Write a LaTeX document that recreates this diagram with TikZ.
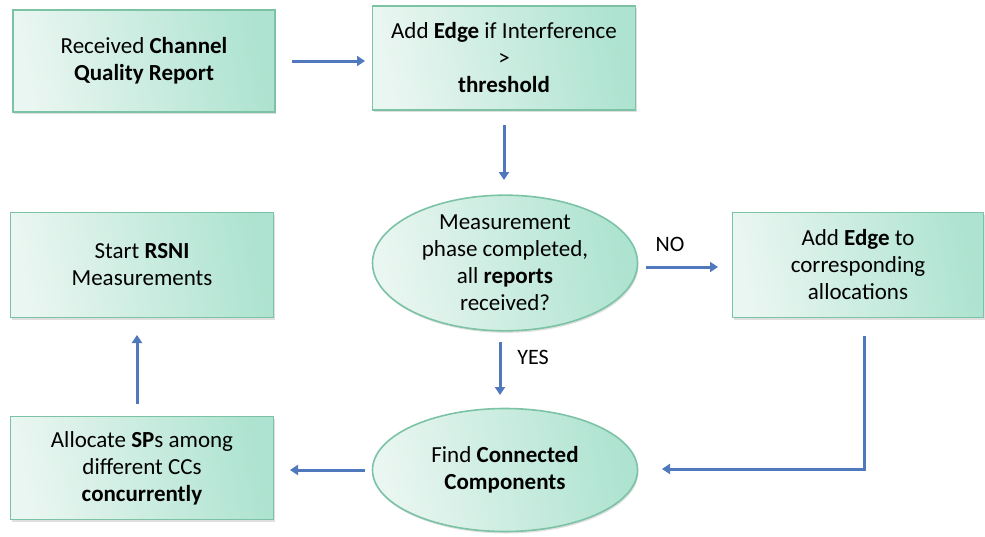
\documentclass[tikz,border=0pt]{standalone}
\usepackage{fontspec}
\setmainfont{Carlito}
\usetikzlibrary{arrows.meta,shapes.geometric,shadows}

\definecolor{boxlight}{HTML}{EAF6F1}
\definecolor{boxdark}{HTML}{ADE3D0}
\definecolor{boxline}{HTML}{7CC3A6}
\definecolor{arrblue}{HTML}{5079BD}

\tikzset{
  stepbox/.style={draw=boxline, line width=1.6pt, left color=boxlight, right color=boxdark,
    shading angle=100, align=center, inner sep=0pt,
    drop shadow={opacity=0.25, shadow xshift=1pt, shadow yshift=-2pt}},
  decision/.style={stepbox, ellipse},
  arr/.style={draw=arrblue, line width=3pt, -{Triangle[width=10pt,length=8pt]}},
  lbl/.style={font=\fontsize{22}{26}\selectfont}
}

\begin{document}
\begin{tikzpicture}[x=1pt,y=-1pt, font=\fontsize{23}{27}\selectfont]
\useasboundingbox (0,0) rectangle (985,536);

%%Boxes
\node[stepbox, minimum width=262pt, minimum height=102pt] (rcv) at (144,61)
  {Received \textbf{Channel}\\ \textbf{Quality Report}};
\node[stepbox, minimum width=263pt, minimum height=104pt] (addedge) at (504,58)
  {Add \textbf{Edge} if Interference\\ >\\ \textbf{threshold}};
\node[decision, minimum width=265pt, minimum height=126pt] (phase) at (505,263)
  {Measurement\\ phase completed,\\ all \textbf{reports}\\ received?};
\node[stepbox, minimum width=251pt, minimum height=105pt] (alloc) at (858,265)
  {Add \textbf{Edge} to\\ corresponding\\ allocations};
\node[decision, minimum width=265pt, minimum height=123pt] (cc) at (505,470)
  {Find \textbf{Connected}\\ \textbf{Components}};
\node[stepbox, minimum width=263pt, minimum height=103pt] (sps) at (142,468)
  {Allocate \textbf{SP}s among\\ different CCs\\ \textbf{concurrently}};
\node[stepbox, minimum width=263pt, minimum height=105pt] (rsni) at (142,265)
  {Start \textbf{RSNI}\\ Measurements};

%%Arrows
\coordinate (elbow) at (864,469);
\draw[arr] (292,61) -- (365,61);
\draw[arr] (504,125) -- (504,180);
\draw[arr] (646,267) -- (718,267);
\draw[arr] (500,342) -- (500,395);
\draw[arr] (864,336) -- (elbow) -- (662,469);
\draw[arr] (365,470) -- (290,470);
\draw[arr] (137,404) -- (137,335);

%%Labels
\node[lbl] (no) at (670,244) {NO};
\node[lbl] (yes) at (533,357) {YES};

\end{tikzpicture}
\end{document}
